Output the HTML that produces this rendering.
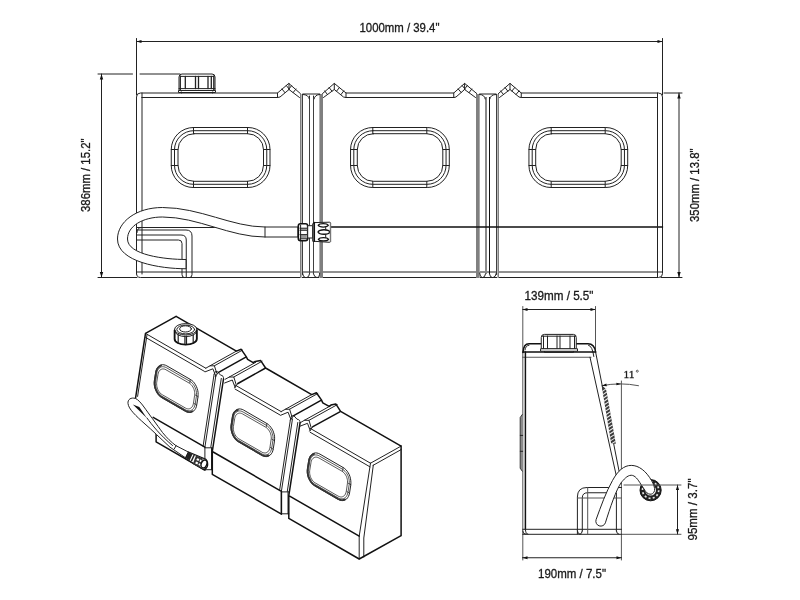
<!DOCTYPE html>
<html>
<head>
<meta charset="utf-8">
<title>Water tank dimensions</title>
<style>
html,body{margin:0;padding:0;background:#fff;}
body{width:800px;height:600px;overflow:hidden;font-family:"Liberation Sans",sans-serif;}
svg{display:block;position:absolute;left:0;top:0;}
.l{fill:none;stroke:#222;stroke-width:1;stroke-linecap:round;stroke-linejoin:round;}
.t{fill:none;stroke:#111;stroke-width:1.5;stroke-linecap:round;stroke-linejoin:round;}
.g{fill:none;stroke:#555;stroke-width:1;stroke-linecap:round;stroke-linejoin:round;}
.w{fill:#fff;stroke:#222;stroke-width:1;stroke-linejoin:round;}
.a{fill:#111;stroke:none;}
text{font-family:"Liberation Sans",sans-serif;font-size:12px;fill:#1a1a1a;stroke:#1a1a1a;stroke-width:0.3px;filter:grayscale(1);}
</style>
</head>
<body>
<svg width="800" height="600" viewBox="0 0 800 600">
<rect width="800" height="600" fill="#fff"/>

<!-- ================= FRONT VIEW ================= -->
<g id="front">
<!-- dimension: 1000mm -->
<text x="359.5" y="32" textLength="80" lengthAdjust="spacingAndGlyphs">1000mm / 39.4"</text>
<path class="l" d="M136.5 41.5H662.5"/>
<path class="l" d="M136.5 38.5V95M662.5 38.5V95"/>
<path class="a" d="M136.5 41.5l5-1.6v3.2zM662.5 41.5l-5-1.6v3.2z"/>

<!-- dimension: 386mm -->
<text transform="translate(90 212) rotate(-90)" textLength="73.5" lengthAdjust="spacingAndGlyphs">386mm / 15.2"</text>
<path class="l" d="M101.5 74V277.5"/>
<path class="l" d="M98 74H132.5M140 74H180M98 277.5H137"/>
<path class="a" d="M101.5 74l-1.7 5.5h3.4zM101.5 277.5l-1.7-5.5h3.4z"/>

<!-- dimension: 350mm -->
<text transform="translate(699 222) rotate(-90)" textLength="73.5" lengthAdjust="spacingAndGlyphs">350mm / 13.8"</text>
<path class="l" d="M679 93V277.5"/>
<path class="l" d="M664 93H682M661 277.5H682"/>
<path class="a" d="M679 93l-1.7 5.5h3.4zM679 277.5l-1.7-5.5h3.4z"/>

<!-- tank outline -->
<path class="l" d="M136.5 274V97Q136.5 93 140.5 93H277.5L288.75 83.4L300.4 93.6M322.5 93.6L334.3 83.4L346 93H453.75L464.6 83.4L476.8 93.6M498.4 93.6L510 83.4L521.25 93H658.5Q662.5 93 662.5 97V273.5Q662.5 277.5 658.5 277.5H140.5Q136.5 277.5 136.5 273.5"/>
<path class="l" d="M142 274V97.5M142 97.5H277.5L280 97L289 89.5L299.5 97.5M323.5 97.5L334.3 89.5L343.5 97L346 97.5H454L456 97L464.6 89.5L475.5 97.5M499.5 97.5L510 89.5L519 97L521.25 97.5H657.5V277.5"/>
<path class="l" d="M137 272H662M142 93V97.5M657.5 93V97.5"/>

<!-- dividers between tank sections -->
<g shape-rendering="crispEdges"><rect x="300" y="94" width="1" height="184" fill="#808080"/><rect x="301" y="94" width="1" height="184" fill="#b8b8b8"/><rect x="302" y="94" width="1" height="181" fill="#404040"/><rect x="309" y="97" width="1" height="177" fill="#404040"/><rect x="313" y="97" width="1" height="177" fill="#404040"/><rect x="319" y="94" width="1" height="184" fill="#b0b0b0"/><rect x="320" y="94" width="3" height="184" fill="#7f7f7f"/></g>
<path class="l" d="M302.5 273Q303 277.5 305 277.5M309.5 274Q309 277.5 307 277.5M313.5 274Q314.5 277.5 316.5 277.5M319.7 273Q319.5 277.5 317.5 277.5M309.5 97V96M313.5 97V96"/>
<path class="l" d="M302.8 94H319.7M302.8 94.5Q308.5 94.5 309.4 99M319.7 94.5Q315 94.5 314 99"/>
<g shape-rendering="crispEdges"><rect x="476" y="94" width="3" height="184" fill="#808080"/><rect x="479" y="94" width="1" height="184" fill="#a8a8a8"/><rect x="485" y="97" width="2" height="177" fill="#8a8a8a"/><rect x="489" y="97" width="1" height="177" fill="#111"/><rect x="496" y="94" width="1" height="181" fill="#404040"/><rect x="497" y="94" width="1" height="184" fill="#b8b8b8"/><rect x="498" y="94" width="1" height="184" fill="#808080"/></g>
<path class="l" d="M479.6 273Q480 277.5 482 277.5M485.5 274Q485 277.5 483 277.5M489.5 274Q490 277.5 492 277.5M496.4 273Q495.5 277.5 493.5 277.5"/>
<path class="l" d="M479.6 94H496M479.6 94.5Q484.5 94.5 485.25 99M496 94.5Q490.5 94.5 489.75 99"/>
<!-- V ridge tick marks -->
<path class="l" d="M289.0 83.5V89.5M282.0 89.0L284.9 92.6M286.4 85.6L289.2 89.2M291.6 85.6L288.8 89.2M296.0 89.0L293.1 92.6M334.3 83.5V89.5M324.7 90.9L327.5 94.6M329.1 87.5L331.9 91.1M339.4 87.5L336.6 91.1M343.8 90.9L341.0 94.5M464.6 83.5V89.5M458.2 89.0L461.2 92.5M462.2 85.6L465.1 89.1M467.3 85.6L464.5 89.2M471.8 89.0L469.0 92.7M510.0 83.5V89.5M500.6 90.9L503.5 94.5M505.0 87.5L507.8 91.1M514.8 87.5L511.9 91.0M519.0 90.9L516.0 94.5M277.5 93V97.5M346 93V97.5M453.75 93V97.5M521.25 93V97.5"/>

<!-- windows -->
<g id="win1">
<rect class="l" x="171.25" y="127.5" width="98.75" height="60" rx="22" ry="22"/>
<rect class="l" x="174.5" y="130.7" width="92.25" height="53.6" rx="19" ry="19"/>
<rect class="l" x="178" y="133.7" width="85.5" height="47.6" rx="16" ry="16"/>
<path class="l" d="M193.5 127.5V133.7M247.5 127.5V133.7M193.5 181.3V187.5M247.5 181.3V187.5M171.25 149.5H178M171.25 165.5H178M263.5 149.5H270M263.5 165.5H270"/>
</g>
<use href="#win1" x="179.3"/>
<use href="#win1" x="357.7"/>

<!-- step line -->
<path class="t" d="M331 227H662.5"/>
<path class="l" d="M136.5 227.5H225M657.5 225V229"/>

<!-- recess lower-left -->
<path class="l" d="M137 230H186Q192 230 192 236V274.5Q192 277.5 190 277.5M137 235H181Q186.25 235 186.25 240V277.5M137 240H178.5Q182 240 182 243.5V274.5Q182 277.5 184 277.5M137 232.5Q137 228 141 227.5"/>

<!-- hose -->
<path class="w" d="M298 227H265C232 227 200 207.5 162.5 207.5C136 207.5 117.5 222 117.5 239C117.5 262 160 268.75 186 268.75V259.5C165 259.5 127.5 255 127.5 239C127.5 226 143 217 162.5 217C198 217 230 237 265 237H298Z"/>
<path class="l" d="M265 227V237"/>

<!-- hose fitting + nut -->
<path d="M298.3 226Q298.3 223.8 300.5 223.8H305.5Q307.7 223.8 307.7 226V238.5Q307.7 240.7 305.5 240.7H300.5Q298.3 240.7 298.3 238.5Z" fill="#fff" stroke="#111" stroke-width="1.6"/>
<path d="M300.3 228.2H306.8V229.8H300.3ZM300.3 235H306.8V238.6H300.3Z" fill="#999"/>
<path class="l" d="M300 228.2H307M300 230.3H307M300 234.6H307M300 238.8H307M300.6 225V240" stroke-width="1.2"/>
<path class="w" d="M307.7 225.7H312.7V238H307.7Z"/>
<path class="w" d="M312.7 223.7H314.3V241.3H312.7Z"/>
<path class="w" d="M314.3 222.6L329.5 222.2Q330.5 222.2 330.5 223.2V241.3Q330.5 242.3 329.5 242.3L314.3 241.3Z"/>
<path class="t" d="M314.3 222.6V241.3"/>
<path d="M318.2 225.3C319.5 223 327 223 328.3 225.3C327 227.6 319.5 227.6 318.2 225.3ZM318 232C319.5 229 328.5 229 330 232C328.5 235 319.5 235 318 232ZM318.4 239.3C319.7 237 327.2 237 328.5 239.3C327.2 241.5 319.7 241.5 318.4 239.3Z" fill="#fff" stroke="#111" stroke-width="1.3"/>
<path class="l" d="M325.7 226.8V229.8M325.7 234.3V237.7"/>
<path d="M330.5 223V242" stroke="#777" stroke-width="1.4" fill="none"/>

<!-- cap -->
<path class="w" d="M179 90.5V77Q179 74 182 74H212Q215 74 215 77V90.5Z"/>
<path class="w" d="M178.5 90.5H215.5V92.5H178.5Z"/>
<path class="l" style="stroke-width:1.3" d="M180.3 76V90.5M185.3 76.5V88.5M195.5 76.5V88.5M198.5 76.5V88.5M208 76.5V88.5M211.3 76.5V88.5M213.8 76V90.5"/><path class="l" d="M180.5 76.4H213.5M179 88.6H215M181.5 92V93M212.5 92V93"/>
</g>

<!-- ================= SIDE VIEW ================= -->
<g id="side">
<text x="524.5" y="300" textLength="69" lengthAdjust="spacingAndGlyphs">139mm / 5.5"</text>
<path class="l" d="M522.5 309.5H595.5"/>
<path class="g" d="M522.8 306.5V560M595.5 306.5V352M621.4 381V560"/>
<path class="a" d="M522.5 309.5l5-1.6v3.2zM595.5 309.5l-5-1.6v3.2z"/>
<text x="538" y="577.5" textLength="68" lengthAdjust="spacingAndGlyphs">190mm / 7.5"</text>
<path class="l" d="M522.5 557.75H621.5"/>
<path class="a" d="M522.5 557.75l5-1.6v3.2zM621.5 557.75l-5-1.6v3.2z"/>
<text transform="translate(696.8 540.5) rotate(-90)" textLength="62" lengthAdjust="spacingAndGlyphs">95mm / 3.7"</text>
<path class="l" d="M677.5 485V534.3"/>
<path class="g" d="M621.5 534.3H681"/>
<path class="a" d="M677.5 485l-1.6 5h3.2zM677.5 534.3l-1.6-5h3.2z"/>
<!-- 11 deg -->
<text x="623.5" y="378.2" style="font-family:'Liberation Serif',serif;font-size:11px" textLength="11" lengthAdjust="spacingAndGlyphs">11</text>
<circle cx="637.3" cy="371.2" r="1" fill="none" stroke="#222" stroke-width="0.7"/>
<path class="g" d="M602 385.7Q620 382 638.5 385.7"/>
<path class="a" d="M601.7 385.8l4.6-2.2l.5 2.6zM621.2 383.9l-4.8-1.2v2.6z"/>

<!-- body -->
<path class="t" d="M523 352.5Q523.5 343.75 529 343.75H588Q594.5 343.75 595.6 352"/>
<path class="l" d="M525 350Q525.5 345.5 529 345.2M588.5 345.2Q592.5 346 593.8 356.5"/>
<path class="t" d="M523 352H595.6"/>
<path class="g" d="M522.5 357.25H591"/>
<path class="t" d="M525.4 352V529.3"/>
<path class="l" d="M522.7 529.3H621.5M522.7 534.3H621.5M522.7 531Q522.7 534.3 526 534.3M525.4 529.3Q525.5 534 528 534.3"/>
<!-- slope -->
<path class="l" d="M595.6 352L621.4 483M590 357.25L617.6 481.5"/>
<!-- hatch on slope -->
<path d="M601.8 386.5L603.5 386.8Q606 388.5 606.5 391L615.8 443.8L611.2 443.8Z" fill="#3a3a3a" stroke="none"/>
<path d="M602.0 391.6L606.6 388.4M602.6 394.9L607.2 391.7M603.1 398.2L607.8 395.0M603.6 401.5L608.3 398.3M604.2 404.8L608.9 401.6M604.7 408.1L609.5 404.9M605.2 411.4L610.0 408.2M605.8 414.7L610.6 411.5M606.3 418.0L611.1 414.8M606.8 421.3L611.7 418.1M607.4 424.6L612.3 421.4M607.9 427.9L612.8 424.7M608.4 431.2L613.4 428.0M608.9 434.5L614.0 431.3M609.5 437.8L614.5 434.6M610.0 441.1L615.1 437.9M610.5 444.4L615.6 441.2" stroke="#e8e8e8" stroke-width="1.1" fill="none"/>
<!-- left bump -->
<path d="M522.7 414.2L520.3 417.5V468.2L522.7 471.5Z" fill="#8c8c8c" stroke="none"/><path d="M522.5 414.2L520.2 417.5V468.2L522.5 471.5" fill="none" stroke="#333" stroke-width="1"/><path class="l" d="M520.3 435.4H522.7M520.3 451.3H522.7"/>
<!-- recess -->
<path class="l" d="M577.4 534V497Q577.4 487.5 587 487.5H621.5M582.3 531V498Q582.3 492.75 587.5 492.75H616.4V531M577.4 531Q577.6 534 580 534.3M582.3 531Q582 534 580 534.3M616.4 531Q616.6 534 619 534.3"/>
<path class="g" d="M587.7 487.5V534M577.4 498H621.5"/>
<!-- nut ring -->
<circle cx="650.6" cy="490.2" r="8" fill="none" stroke="#222" stroke-width="5.2"/>
<circle cx="650.6" cy="490.2" r="8.1" fill="none" stroke="#e4e4e4" stroke-width="1.7" stroke-dasharray="2 2.24"/>
<circle cx="650.6" cy="490.2" r="10.6" fill="none" stroke="#111" stroke-width="1"/>
<!-- hose -->
<path class="w" d="M596.1 519.6C601 506 606 492 612.5 480.5C618 470.5 624 465.4 631.25 465.4C639 465.4 646 471 651.7 480.8C653.5 484 655 488 654.6 490.5C654 493.5 651.5 494.4 650 494.2C647.5 494 646 492 645 490.5C643.5 488 642 486 640.8 484.2C638 479.5 635 475.25 631.25 475.25C627 475.25 623.5 480 621.25 482.5C616 490 610 508 605.4 522.8A4.9 4.9 0 0 1 596.1 519.6Z"/>
<path class="g" d="M624 485H681"/>
<!-- cap -->
<path class="w" d="M541.25 348.75V337.5Q541.25 334.4 544.4 334.4H573.5Q576.25 334.4 576.25 337.5V348.75Z"/>
<path class="w" d="M540.6 348.75H577.5V351.25H540.6Z"/>
<path class="l" d="M543.5 336V348.5M547.5 336V348.5M557 336V348.5M560 336V348.5M570 336V348.5M574.5 336V348.5M542 336.2H575.5M544.5 351.5V352.3H573.5V351.5"/>
</g>
<g id="iso">
<!--ISO-->
<path class="l" d="M147.0 334.9L137.6 396.4M370.5 463.2L401.1 446.1M373.0 465.4L401.1 449.6M370.5 463.2L359.2 536.2L359.2 559.0M373.3 465.2L363.8 538.0L363.8 557.0M145.5 333.4L205.8 368.2M145.6 337.4L204.5 371.4M235.0 385.0L281.1 411.6M235.1 389.1L279.9 414.9M310.1 428.3L370.5 463.2M310.2 432.3L369.9 466.8M236.4 351.1L210.0 365.8M242.5 350.1L214.4 365.8M205.8 368.2L210.0 365.8L214.4 365.8L216.8 373.3M205.2 371.8L212.9 368.8L215.8 376.3M218.5 372.3L215.2 376.7M255.7 362.3L229.3 377.0M262.0 361.3L233.8 377.0M225.1 379.3L229.3 377.0L233.8 377.0L236.1 384.4M224.6 383.0L232.3 380.0L235.1 387.4M237.9 383.5L234.6 387.8M311.7 394.6L285.3 409.3M317.8 393.5L289.6 409.2M281.1 411.6L285.3 409.3L289.6 409.2L291.9 416.6M280.6 415.3L288.1 412.2L290.9 419.6M293.7 415.6L290.4 420.0M330.9 405.6L304.4 420.3M337.2 404.7L309.0 420.3M300.3 422.7L304.4 420.3L309.0 420.3L311.2 427.7M299.7 426.3L307.5 423.3L310.2 430.7M312.9 426.7L309.6 431.1M216.0 374.7L204.9 447.2L204.9 470.0M214.1 374.2L203.1 446.2M221.3 378.4L210.8 447.2M214.2 373.9 Q214.5 370.9 217.2 371.3 L220.5 375.1 Q224.0 375.5 223.5 378.7M204.9 447.8L212.3 447.8M204.9 469.7L212.3 469.7M211.5 447.8L211.5 469.7M292.5 418.8L281.4 491.3L281.4 514.1M290.6 418.3L279.6 490.3M297.8 422.5L287.3 491.4M290.7 418.1 Q291.0 415.1 293.7 415.5 L297.0 419.2 Q300.5 419.6 300.0 422.8M281.4 491.9L288.8 491.9M281.4 513.8L288.8 513.8M288.0 491.9L288.0 513.8"/>
<path class="t" d="M176.1 316.4L236.4 351.1L241.2 349.3L246.2 356.6L247.6 359.4L253.2 362.7L255.2 361.5L260.7 360.6L265.6 368.0L311.7 394.6L316.4 392.7L321.4 399.9L322.8 402.8L329.1 406.4L330.9 405.1L335.8 403.9L340.6 411.3L401.1 446.1M176.1 316.4L145.5 333.4L135.5 398.3M401.1 446.1L401.1 535.7L359.2 559.0M156.1 432.1L156.1 441.8L204.9 470.0M212.3 451.5L212.3 474.3L281.4 514.1L281.4 491.3M288.8 495.6L288.8 518.4L359.2 559.0M153.2 417.4L204.9 447.2M212.3 451.5L281.4 491.3M288.8 495.6L359.2 536.2M245.4 357.3L218.5 372.3M264.7 368.5L237.9 383.5M320.5 400.7L293.7 415.6M339.8 411.8L312.9 426.7M223.5 379.0L212.3 451.5M300.0 423.1L288.8 495.6"/>
<path class="l" d="M198.0 396.6L198.1 394.7L198.1 392.7L197.8 390.7L197.2 388.6L196.5 386.7L195.5 384.8L194.4 383.1L193.2 381.6L191.8 380.4L190.3 379.4L166.9 365.9L165.4 365.2L163.9 364.8L162.4 364.7L161.0 364.9L159.7 365.5L158.5 366.3L157.5 367.5L156.7 368.8L156.1 370.4L155.7 372.2L154.4 380.6L154.2 382.5L154.3 384.5L154.6 386.5L155.1 388.5L155.9 390.5L156.8 392.4L157.9 394.0L159.2 395.5L160.6 396.8L162.0 397.8L185.4 411.3L186.9 412.0L188.4 412.4L189.9 412.5L191.3 412.3L192.6 411.7L193.8 410.9L194.8 409.7L195.7 408.4L196.3 406.8L196.7 405.0ZM274.5 440.7L274.6 438.8L274.6 436.8L274.3 434.8L273.7 432.8L273.0 430.8L272.0 428.9L270.9 427.3L269.7 425.8L268.3 424.5L266.8 423.5L243.7 410.1L242.2 409.4L240.6 409.0L239.2 408.9L237.8 409.2L236.4 409.7L235.3 410.6L234.3 411.7L233.4 413.1L232.8 414.7L232.4 416.4L231.1 424.8L230.9 426.7L231.0 428.7L231.3 430.8L231.9 432.8L232.6 434.8L233.5 436.6L234.7 438.3L235.9 439.8L237.3 441.1L238.8 442.0L261.9 455.4L263.4 456.1L264.9 456.5L266.4 456.6L267.8 456.4L269.1 455.8L270.3 455.0L271.3 453.8L272.2 452.5L272.8 450.9L273.2 449.1ZM350.8 484.7L350.9 482.8L350.8 480.8L350.5 478.8L350.0 476.7L349.3 474.8L348.3 472.9L347.2 471.2L345.9 469.7L344.6 468.5L343.1 467.5L319.9 454.1L318.4 453.4L316.9 453.0L315.4 452.9L314.0 453.2L312.7 453.7L311.5 454.6L310.5 455.7L309.7 457.1L309.1 458.7L308.7 460.4L307.4 468.8L307.2 470.7L307.3 472.7L307.6 474.8L308.1 476.8L308.9 478.7L309.8 480.6L310.9 482.3L312.2 483.8L313.6 485.0L315.0 486.0L338.2 499.4L339.7 500.1L341.2 500.5L342.7 500.6L344.1 500.4L345.4 499.8L346.6 499.0L347.6 497.8L348.4 496.5L349.1 494.9L349.5 493.1Z"/>
<path class="l" style="stroke-width:0.75" d="M196.4 396.0L196.5 394.3L196.5 392.6L196.2 390.9L195.7 389.1L195.1 387.5L194.3 385.9L193.3 384.4L192.3 383.2L191.1 382.1L189.8 381.2L166.4 367.7L165.1 367.1L163.8 366.8L162.6 366.7L161.4 366.9L160.2 367.4L159.2 368.1L158.4 369.1L157.7 370.2L157.1 371.6L156.8 373.1L155.5 381.5L155.3 383.2L155.4 384.9L155.7 386.6L156.1 388.3L156.8 390.0L157.6 391.6L158.5 393.1L159.6 394.3L160.8 395.4L162.0 396.3L185.4 409.8L186.7 410.4L188.0 410.7L189.3 410.8L190.5 410.6L191.6 410.1L192.6 409.4L193.5 408.4L194.2 407.2L194.7 405.9L195.1 404.4ZM194.6 395.4L194.8 394.0L194.7 392.6L194.5 391.2L194.1 389.7L193.6 388.3L192.9 387.0L192.1 385.8L191.2 384.7L190.2 383.8L189.2 383.1L166.0 369.8L164.9 369.2L163.9 369.0L162.8 368.9L161.8 369.1L160.9 369.5L160.0 370.1L159.3 370.9L158.7 371.9L158.3 373.0L158.0 374.3L156.7 382.4L156.6 383.7L156.7 385.2L156.9 386.6L157.3 388.1L157.8 389.5L158.5 390.8L159.3 392.0L160.2 393.1L161.1 394.0L162.2 394.7L185.4 408.0L186.4 408.5L187.5 408.8L188.6 408.9L189.6 408.7L190.5 408.3L191.3 407.7L192.1 406.9L192.7 405.9L193.1 404.8L193.4 403.5ZM190.3 379.4L189.8 382.7M196.7 405.0L194.0 403.4M198.0 396.6L195.3 395.0M272.9 440.1L273.0 438.4L273.0 436.7L272.7 435.0L272.2 433.3L271.6 431.6L270.8 430.0L269.8 428.5L268.8 427.3L267.6 426.2L266.3 425.3L243.1 412.0L241.9 411.4L240.6 411.0L239.3 410.9L238.1 411.1L237.0 411.6L236.0 412.3L235.1 413.3L234.4 414.5L233.8 415.9L233.5 417.4L232.2 425.8L232.1 427.4L232.1 429.1L232.4 430.9L232.8 432.6L233.5 434.3L234.3 435.8L235.3 437.3L236.3 438.6L237.5 439.7L238.8 440.5L261.9 453.9L263.2 454.5L264.5 454.8L265.8 454.9L267.0 454.7L268.1 454.2L269.1 453.5L270.0 452.5L270.7 451.4L271.2 450.0L271.6 448.5ZM271.1 439.5L271.3 438.2L271.2 436.7L271.0 435.3L270.6 433.8L270.1 432.4L269.4 431.1L268.6 429.9L267.7 428.8L266.7 427.9L265.7 427.2L242.7 414.0L241.7 413.5L240.6 413.2L239.5 413.1L238.5 413.3L237.6 413.7L236.7 414.3L236.0 415.1L235.4 416.1L235.0 417.2L234.7 418.5L233.4 426.6L233.3 428.0L233.4 429.4L233.6 430.9L234.0 432.3L234.5 433.7L235.2 435.0L236.0 436.2L236.9 437.3L237.9 438.2L238.9 438.9L261.9 452.1L262.9 452.7L264.0 452.9L265.1 453.0L266.1 452.8L267.0 452.4L267.8 451.8L268.6 451.0L269.2 450.0L269.6 448.9L269.9 447.6ZM266.8 423.5L266.3 426.9M273.2 449.1L270.5 447.5M274.5 440.7L271.8 439.2M349.2 484.1L349.3 482.4L349.2 480.7L349.0 479.0L348.5 477.2L347.9 475.6L347.1 474.0L346.1 472.5L345.0 471.3L343.8 470.2L342.6 469.3L319.4 456.0L318.1 455.3L316.8 455.0L315.6 454.9L314.4 455.1L313.2 455.6L312.2 456.3L311.4 457.3L310.7 458.5L310.1 459.8L309.8 461.4L308.5 469.8L308.3 471.4L308.4 473.1L308.7 474.8L309.1 476.6L309.8 478.2L310.6 479.8L311.5 481.3L312.6 482.6L313.8 483.6L315.0 484.5L338.2 497.9L339.5 498.5L340.8 498.8L342.1 498.9L343.3 498.7L344.4 498.2L345.4 497.5L346.3 496.5L347.0 495.3L347.5 494.0L347.9 492.5ZM347.4 483.5L347.5 482.1L347.5 480.7L347.3 479.3L346.9 477.8L346.4 476.4L345.7 475.1L344.9 473.9L344.0 472.8L343.0 471.9L342.0 471.2L319.0 458.0L317.9 457.5L316.9 457.2L315.8 457.1L314.8 457.3L313.9 457.7L313.0 458.3L312.3 459.1L311.7 460.1L311.3 461.2L311.0 462.5L309.7 470.6L309.6 472.0L309.7 473.4L309.9 474.8L310.3 476.3L310.8 477.7L311.5 479.0L312.3 480.2L313.2 481.3L314.1 482.2L315.2 482.9L338.1 496.1L339.2 496.6L340.3 496.9L341.3 497.0L342.3 496.8L343.3 496.4L344.1 495.8L344.9 495.0L345.4 494.0L345.9 492.9L346.2 491.6ZM343.1 467.5L342.6 470.8M349.5 493.1L346.8 491.5M350.8 484.7L348.1 483.1"/>
<path class="l" style="stroke-width:1.7;stroke:#333" d="M161.1 365.6L159.9 366.2L158.8 367.0L157.8 368.0L157.0 369.4L156.4 370.9L156.0 372.6L154.7 381.0L154.6 382.8L154.6 384.7L154.9 386.6L155.4 388.5L156.2 390.4L157.1 392.2L158.1 393.8L159.3 395.2L160.6 396.4L162.0 397.3L185.4 410.8L186.8 411.5L188.3 411.9L189.7 412.0L191.0 411.8L192.3 411.2M237.9 409.9L236.6 410.4L235.5 411.2L234.5 412.3L233.7 413.6L233.1 415.1L232.8 416.8L231.5 425.2L231.3 427.0L231.4 428.9L231.7 430.9L232.2 432.8L232.9 434.6L233.8 436.4L234.8 438.0L236.0 439.4L237.4 440.6L238.7 441.6L261.9 455.0L263.3 455.6L264.8 456.0L266.2 456.1L267.5 455.9L268.8 455.3M314.1 453.9L312.9 454.4L311.8 455.2L310.8 456.3L310.0 457.6L309.4 459.1L309.0 460.8L307.7 469.2L307.6 471.0L307.6 472.9L307.9 474.8L308.4 476.8L309.2 478.6L310.1 480.4L311.1 482.0L312.3 483.4L313.6 484.6L315.0 485.6L338.2 498.9L339.6 499.6L341.1 500.0L342.5 500.1L343.8 499.9L345.1 499.3"/>
<path class="w" d="M174.6 329.3V338.9A11.1 5.7 0 0 0 196.8 338.9V329.3Z"/>
<ellipse class="w" cx="185.7" cy="329.3" rx="11.1" ry="5.7"/>
<ellipse class="l" cx="185.7" cy="329.5" rx="8.9" ry="4.4"/>
<ellipse class="l" cx="185.5" cy="328.9" rx="5.9" ry="3.1"/>
<path class="l" style="stroke-width:1.2" d="M178.2 334.7V341.9M184.9 336.2V343.4M186.5 336.2V343.4M193.2 334.7V341.9"/>
<path class="l" d="M174.6 330.9A11.1 5.7 0 0 0 196.8 330.9"/>
<path class="t" style="stroke-width:1.8" d="M174.6 330.3V338.9A11.1 5.7 0 0 0 196.8 338.9V330.3"/>
<path class="w" d="M135.5 398.5C131 397 127.5 399.5 128 403.5C128.5 409 136 416 145 424C152 430 160 438 170 447.2L185.5 457.8L188.5 452.1L176 445.7C171 442 167 438 162.5 432.5C160 429 157 425 152.5 418.7C150 415.5 147 411 142.5 405C140.5 402.5 138 399.5 135.5 398.5Z"/>
<path class="a" d="M132.8 404.6L139.3 407L147 418.2Z"/>
<path class="l" d="M147 418C152 425 160 435 172.5 445.5M176.1 445.7L174.3 448.8"/>
<path d="M188.5 452L205.8 459.2Q208.6 462.5 207.3 466.6Q206 469.6 203.6 469.7L185.5 458.4Z" fill="#fff" stroke="#111" stroke-width="1.2"/>
<path d="M188.6 452.3L192.6 454L189.6 460.4L185.7 458.2Z" fill="#222"/>
<path d="M193.6 454.5L195 455.1L192 461.6L190.6 460.9Z" fill="#222"/>
<path d="M196 455.6L203 458.6L199.5 467.4L192.8 464Z" fill="#333"/>
<path d="M197.2 458.2l2.2.9l-.9 1.9l-2.2-.9zM200.2 459.6l1.6.7l-.8 1.9l-1.6-.7zM196 461.6l2.2 1l-.8 1.8l-2.2-1zM199 463.2l1.8.8l-.7 1.7l-1.8-.8z" fill="#fff"/>
<ellipse cx="204" cy="464" rx="2.7" ry="4.1" transform="rotate(20 204 464)" fill="#fff" stroke="#111" stroke-width="1.3"/>
<!--/ISO-->
</g>
</svg>
</body>
</html>
